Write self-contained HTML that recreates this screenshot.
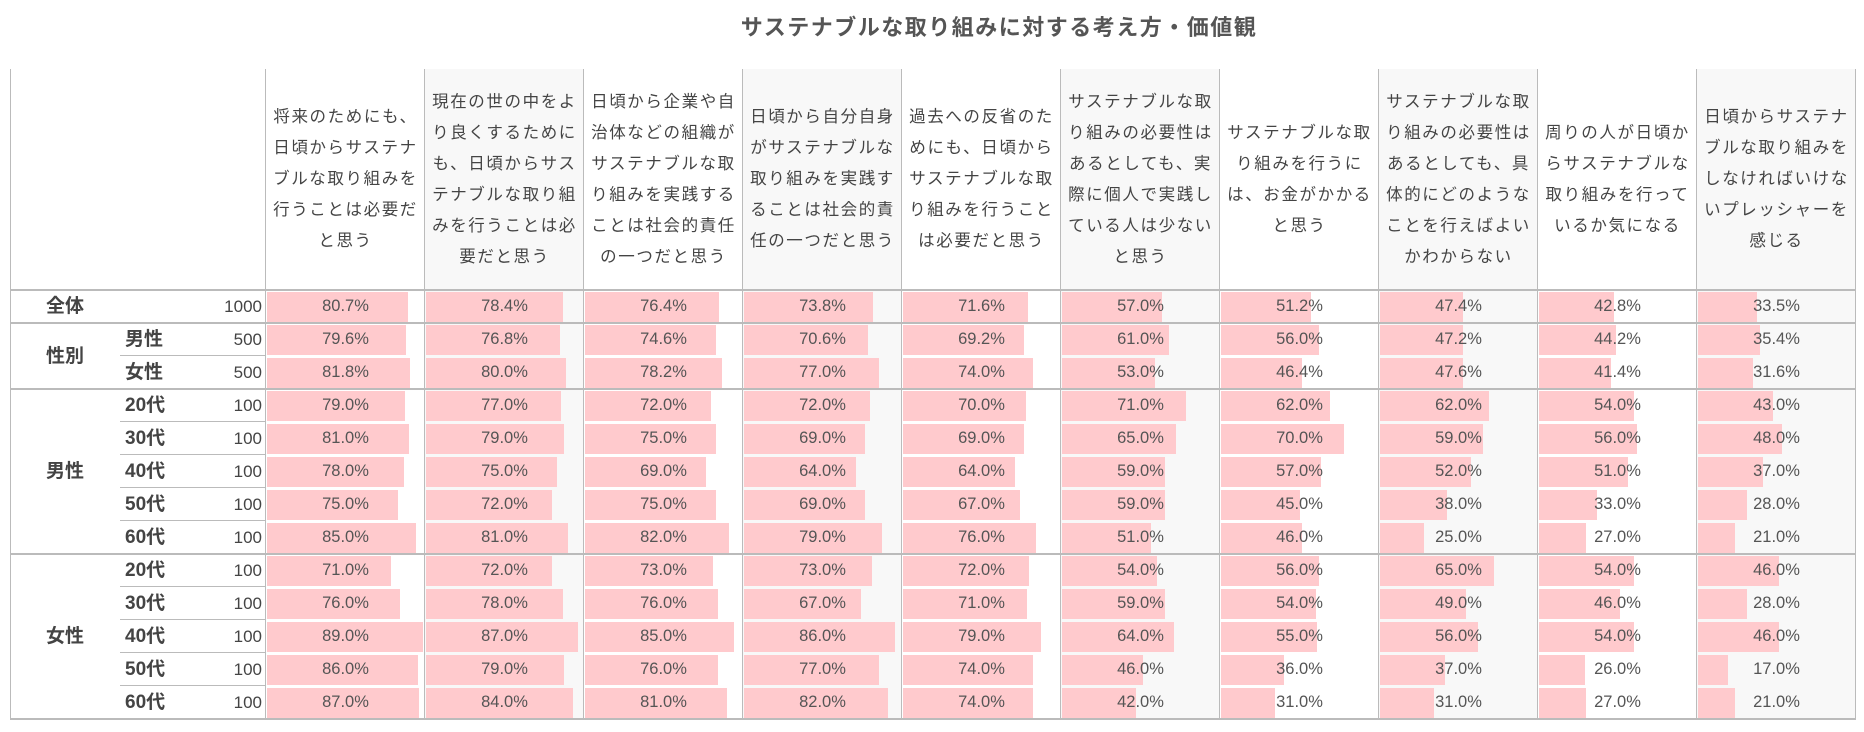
<!DOCTYPE html>
<html><head><meta charset="utf-8">
<style>
body{margin:0;width:1864px;height:732px;background:#fff;position:relative;overflow:hidden;font-family:"Liberation Sans","Noto Sans CJK JP",sans-serif;color:#555}
.a{position:absolute;box-sizing:border-box}
#title{left:0;width:1998px;top:10px;text-align:center;font-size:22px;font-weight:bold;letter-spacing:1.5px;color:#555}
.hd{font-size:16.5px;letter-spacing:1.6px;line-height:31px;text-align:center;white-space:nowrap;color:#444;display:flex;align-items:center;justify-content:center}
.val{font-size:16.5px;text-align:center;color:#555;line-height:33px}
.lab{font-size:19px;color:#444;line-height:33px;font-weight:bold}
</style></head><body>
<div id="title" class="a">サステナブルな取り組みに対する考え方・価値観</div>
<div id="tbl"></div>
<script>
const headers=[
"将来のためにも、|日頃からサステナ|ブルな取り組みを|行うことは必要だ|と思う",
"現在の世の中をよ|り良くするために|も、日頃からサス|テナブルな取り組|みを行うことは必|要だと思う",
"日頃から企業や自|治体などの組織が|サステナブルな取|り組みを実践する|ことは社会的責任|の一つだと思う",
"日頃から自分自身|がサステナブルな|取り組みを実践す|ることは社会的責|任の一つだと思う",
"過去への反省のた|めにも、日頃から|サステナブルな取|り組みを行うこと|は必要だと思う",
"サステナブルな取|り組みの必要性は|あるとしても、実|際に個人で実践し|ている人は少ない|と思う",
"サステナブルな取|り組みを行うに|は、お金がかかる|と思う",
"サステナブルな取|り組みの必要性は|あるとしても、具|体的にどのような|ことを行えばよい|かわからない",
"周りの人が日頃か|らサステナブルな|取り組みを行って|いるか気になる",
"日頃からサステナ|ブルな取り組みを|しなければいけな|いプレッシャーを|感じる"];
const subLabels=["","男性","女性","20代","30代","40代","50代","60代","20代","30代","40代","50代","60代"];
const counts=[1000,500,500,100,100,100,100,100,100,100,100,100,100];
const groups=[["全体",0,1],["性別",1,2],["男性",3,5],["女性",8,5]];
const values=[
[80.7,78.4,76.4,73.8,71.6,57.0,51.2,47.4,42.8,33.5],
[79.6,76.8,74.6,70.6,69.2,61.0,56.0,47.2,44.2,35.4],
[81.8,80.0,78.2,77.0,74.0,53.0,46.4,47.6,41.4,31.6],
[79,77,72,72,70,71,62,62,54,43],
[81,79,75,69,69,65,70,59,56,48],
[78,75,69,64,64,59,57,52,51,37],
[75,72,75,69,67,59,45,38,33,28],
[85,81,82,79,76,51,46,25,27,21],
[71,72,73,73,72,54,56,65,54,46],
[76,78,76,67,71,59,54,49,46,28],
[89,87,85,86,79,64,55,56,54,46],
[86,79,76,77,74,46,36,37,26,17],
[87,84,81,82,74,42,31,31,27,21]];
const T=document.getElementById('tbl');
const X0=266,CW=159,HT=69,HB=290,RH=33,PX=1.75,LINE='#bbb';
function box(css,name,html,cls){const d=document.createElement('div');d.className='a '+(cls||'');d.style.cssText=css;


if(html!=null)d.innerHTML=html;T.appendChild(d);return d;}
const bottom=HB+RH*values.length;
headers.forEach((h,c)=>{if(c%2==1)box(`left:${X0+c*CW}px;top:${HT}px;width:${CW}px;height:${bottom-HT}px;background:#f8f8f8`,'column-shade');});
headers.forEach((h,c)=>{box(`left:${X0+c*CW}px;top:${HT}px;width:${CW}px;height:${HB-HT}px`,'column-header-'+(c+1),h.split('|').join('<br>'),'hd');});
values.forEach((row,r)=>{row.forEach((v,c)=>{
const x=X0+c*CW+1,y=HB+r*RH;
box(`left:${x}px;top:${y+2}px;width:${v*PX}px;height:${RH-3}px;background:#ffcacd`,'bar');
box(`left:${X0+c*CW}px;top:${y}px;width:${CW}px;height:${RH}px`,'value-label',v.toFixed(1)+'%','val');
});
box(`left:${X0-120}px;top:${HB+r*RH}px;width:116px;height:${RH}px;text-align:right;font-size:17px;line-height:33px;color:#444`,'sample-size',String(counts[r]));
if(subLabels[r])box(`left:125px;top:${HB+r*RH}px;width:80px;height:${RH}px`,'sub-label',subLabels[r],'lab');
});
groups.forEach(g=>{box(`left:10px;top:${HB+g[1]*RH}px;width:110px;height:${g[2]*RH}px;display:flex;align-items:center;justify-content:center`,'group-label',g[0],'lab');});
box(`left:10px;top:${HT}px;width:1px;height:${bottom-HT}px;background:${LINE}`,'border-left');
for(let c=0;c<=headers.length;c++)box(`left:${X0+c*CW-1}px;top:${HT}px;width:1px;height:${bottom-HT}px;background:${LINE}`,'column-divider');
const full=[0,1,3,8,13];
full.forEach(r=>box(`left:10px;top:${HB+r*RH-1}px;width:1846px;height:2px;background:${LINE}`,'row-divider'));
[2,4,5,6,7,9,10,11,12].forEach(r=>box(`left:120px;top:${HB+r*RH-1}px;width:146px;height:1px;background:${LINE}`,'sub-row-divider'));
</script>
</body></html>
